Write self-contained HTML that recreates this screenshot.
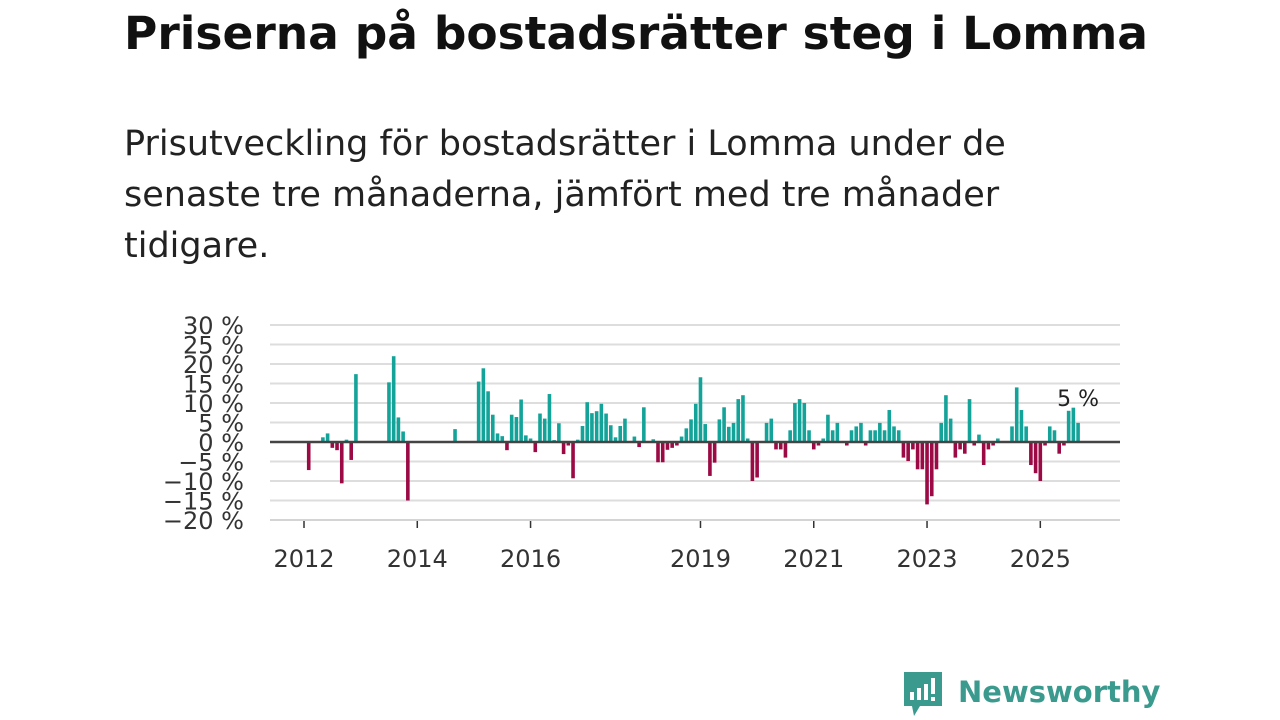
<!DOCTYPE html>
<html><head><meta charset="utf-8"><style>
body{margin:0;width:1280px;height:720px;background:#fff;font-family:"DejaVu Sans","Liberation Sans",sans-serif;overflow:hidden;position:relative}
.t{position:absolute;left:124px;top:7px;font-size:45.5px;font-weight:bold;color:#111;margin:0;white-space:nowrap}
.s{position:absolute;left:124px;top:119px;width:920px;font-size:35px;line-height:51px;color:#222;margin:0}
svg{position:absolute;left:0;top:0}
</style></head><body>
<h1 class="t">Priserna på bostadsrätter steg i Lomma</h1>
<p class="s">Prisutveckling för bostadsrätter i Lomma under de senaste tre månaderna, jämfört med tre månader tidigare.</p>
<svg id="c" width="1280" height="720">
<g>
<path d="M904 672 h38 v34 h-22 l-6 10 l-2 -10 h-8 z" fill="#3b9a8e"/>
<rect x="910" y="692" width="4" height="8" fill="#fff"/><rect x="917" y="688" width="4" height="12" fill="#fff"/><rect x="924" y="684" width="4" height="16" fill="#fff"/><rect x="931" y="678" width="4" height="16" fill="#fff"/><rect x="931" y="697" width="4" height="4" fill="#fff"/>
<text x="958" y="702" font-size="29" font-weight="bold" fill="#3b9a8e" font-family="DejaVu Sans, sans-serif">Newsworthy</text>
</g>
</svg>
<script>
const yTicks=[30,25,20,15,10,5,0,-5,-10,-15,-20];
const xTickYears=[2012,2014,2016,2019,2021,2023,2025];
const values=[0,-7.2,0,0,1.2,2.2,-1.5,-2.1,-10.6,0.6,-4.6,17.4,
0,0,0,0,0,0,15.3,22,6.3,2.7,-15,0,
0,0,0,0,0,0,0,0,3.3,0,0,0,
0,15.5,18.9,13,7,2.2,1.5,-2.1,7,6.4,10.9,1.7,
0.9,-2.6,7.3,6,12.3,0.5,4.8,-3.1,-0.9,-9.3,0.6,4.1,
10.2,7.4,7.9,9.8,7.3,4.3,1.2,4.1,6,0,1.4,-1.3,
8.9,0,0.7,-5.2,-5.2,-2,-1.5,-0.9,1.4,3.5,5.8,9.8,
16.6,4.6,-8.7,-5.3,5.8,8.9,3.9,4.9,11,12,0.9,-10,
-9.1,0,4.9,6,-1.9,-1.9,-4,3,10,11,10,3,
-1.9,-0.9,0.9,7,3,4.9,0,-0.9,3,4,4.9,-0.9,
3,3,4.9,3,8.2,4,3,-4,-4.9,-1.9,-7,-7,
-16,-13.9,-7,4.9,12,6,-4,-1.9,-3,11,-0.9,1.9,
-5.9,-1.9,-0.9,0.9,0,0,4,14,8.2,4,-5.9,-8,
-10,-0.9,4,3,-3,-0.9,8,8.8,4.9];
const startYear=2012;
const lastLabel="5 %";
const svg=document.getElementById('c');
const NS='http://www.w3.org/2000/svg';
const X0=304,MW=4.72,Y0=442,PY=3.9,L=270,R=1120;
const x=m=>X0+m*MW;
const y=v=>Y0-v*PY;
function mk(t,a){const e=document.createElementNS(NS,t);for(const k in a)e.setAttribute(k,a[k]);svg.appendChild(e);return e;}
yTicks.forEach(v=>{
 if(v!==0){const g=mk('line',{x1:L,x2:R,y1:y(v),y2:y(v),stroke:'#ddd','stroke-width':2});
 
 }
 const t=mk('text',{x:244,y:y(v)+9,'text-anchor':'end','font-size':24,fill:'#333','font-family':'DejaVu Sans, sans-serif'});
 t.textContent=(v<0?'\u2212'+(-v):v)+' %';
 
 
});
const ax=mk('line',{x1:L,x2:R,y1:y(-20),y2:y(-20),stroke:'#ccc','stroke-width':1});


xTickYears.forEach(yr=>{
 const m=(yr-startYear)*12;
 const tk=mk('line',{x1:x(m),x2:x(m),y1:521,y2:528,stroke:'#333','stroke-width':1.5});
 
 
 const t=mk('text',{x:x(m),y:567,'text-anchor':'middle','font-size':24,fill:'#333','font-family':'DejaVu Sans, sans-serif'});
 t.textContent=yr;
 
 
});
values.forEach((v,i)=>{
 if(v===0)return;
 const b=mk('rect',{x:x(i)-1.8,width:3.6,y:Math.min(y(v),Y0),height:Math.abs(y(v)-Y0),fill:v>0?'#14a399':'#9b0a45'});
 
 
});
const z=mk('line',{x1:L,x2:R,y1:Y0,y2:Y0,stroke:'#444','stroke-width':2.5});


const li=values.length-1;
const lb=mk('text',{x:x(li),y:y(values[li])-17,'text-anchor':'middle','font-size':22,fill:'#222','font-family':'DejaVu Sans, sans-serif'});
lb.textContent=lastLabel;


</script>
</body></html>
